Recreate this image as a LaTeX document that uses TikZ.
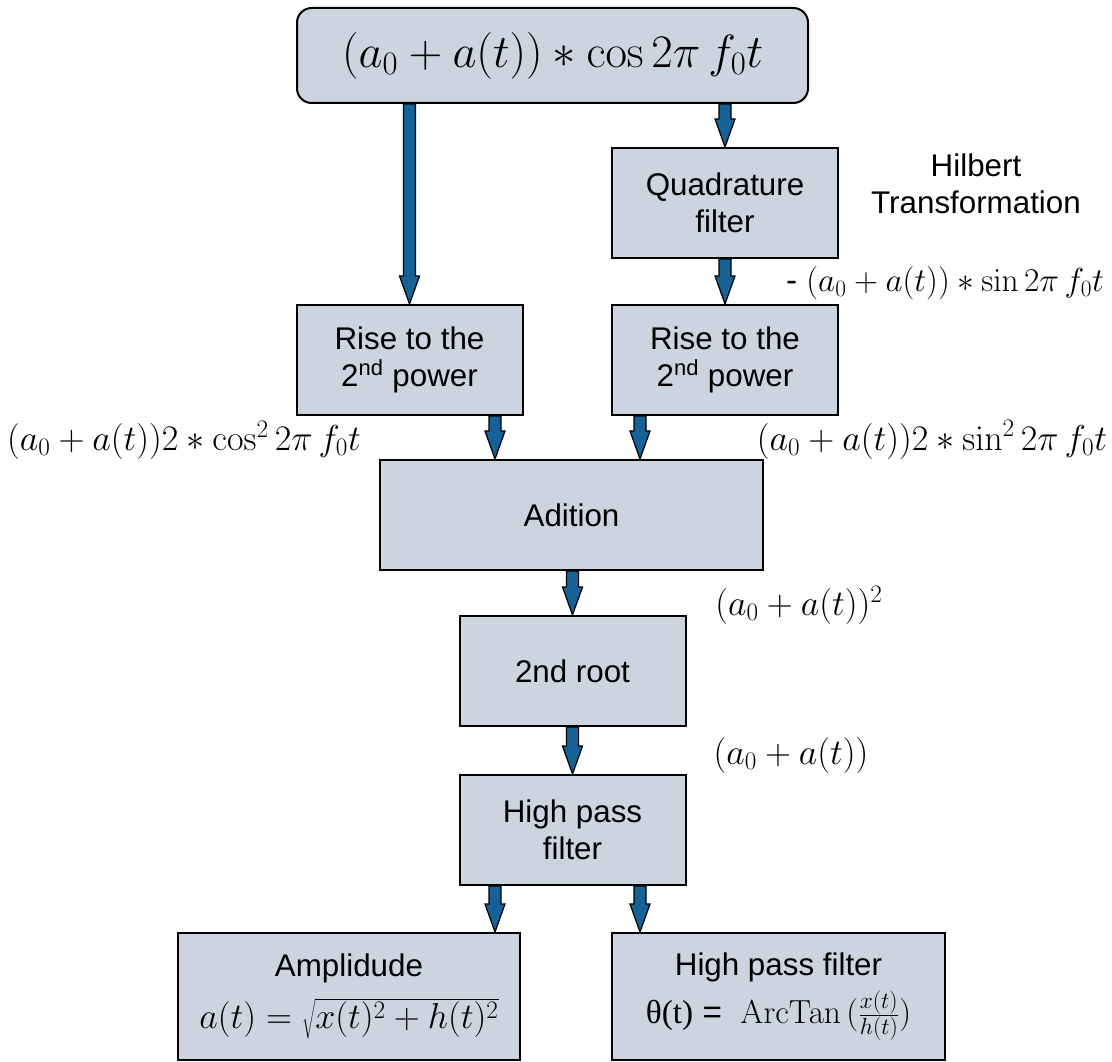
\RequirePackage{fix-cm}
\documentclass[tikz,border=0pt]{standalone}
\usepackage[no-math]{fontspec}
\setmainfont{Liberation Sans}
\newfontfamily\thetafont{Liberation Serif}
\usetikzlibrary{calc}

\definecolor{boxfill}{RGB}{204,212,224}
\definecolor{arrowblue}{RGB}{22,98,150}

% block arrow pointing down, from #1 to #2
\newcommand{\blockarrow}[2]{%
  \draw[barrow] let \p1=(#1), \p2=(#2) in
    (\x1-4.5pt,\y1) -- (\x1-4.5pt,\y2+21pt) -- (\x1-7.5pt,\y2+21pt)
    -- (\x1,\y2) -- (\x1+7.5pt,\y2+21pt) -- (\x1+4.5pt,\y2+21pt)
    -- (\x1+4.5pt,\y1) -- cycle;}

\begin{document}
\begin{tikzpicture}[x=0.75pt, y=-0.75pt,
    block/.style={draw=black, line width=1.5pt, fill=boxfill, align=center,
      inner sep=0pt, minimum width=169.5pt, minimum height=82.5pt,
      font=\fontsize{23.5}{28}\selectfont},
    barrow/.style={draw=black, line width=0.9pt, fill=arrowblue, line join=miter},
    mlabel/.style={inner sep=0pt, font=\fontsize{27}{32}\selectfont},
    note/.style={inner sep=0pt, align=center, font=\fontsize{23.5}{28}\selectfont}]
    \useasboundingbox (0,0) rectangle (1112,1062);

    % Signal source
    \node[block, rounded corners=11pt, minimum width=383.25pt, minimum height=71.25pt,
        font=\fontsize{35}{40}\selectfont] (src) at (552.5,55.5)
        {$(a_0 + a(t)) \ast \cos 2\pi\, f_0 t$};

    % Processing chain
    \node[block] (quad)  at (725,203)   {Quadrature\\filter};
    \node[block] (riseL) at (409.5,360) {Rise to the\\2\textsuperscript{nd} power};
    \node[block] (riseR) at (725,360)   {Rise to the\\2\textsuperscript{nd} power};
    \node[block, minimum width=287.25pt] (add) at (571.5,515) {Adition};
    \node[block] (root)  at (572.5,671) {2nd root};
    \node[block] (hpf)   at (572.5,830) {High pass\\filter};

    % Outputs
    \node[block, minimum width=256.5pt, minimum height=95.25pt] (amp) at (349,996.5)
        {Amplidude\\[11pt] \fontsize{27}{32}\selectfont $a(t) = \sqrt{x(t)^2 + h(t)^2}$};
    \node[block, minimum width=249.75pt, minimum height=95.25pt] (phase) at (778.5,996.5)
        {High pass filter\\[6pt] \fontsize{25}{30}\selectfont
         {\thetafont θ(t)} = \ $\mathrm{ArcTan}\,(\frac{x(t)}{h(t)})$};

    % Side labels
    \node[note]   (hilb) at (976,184)  {Hilbert\\Transformation};
    \node[mlabel, font=\fontsize{25}{30}\selectfont] (quadOut) at (945,283)
        {- $(a_0 + a(t)) \ast \sin 2\pi\, f_0 t$};
    \node[mlabel] (cosSq) at (184,440) {$(a_0 + a(t))2 \ast \cos^2 2\pi\, f_0 t$};
    \node[mlabel] (sinSq) at (932,440) {$(a_0 + a(t))2 \ast \sin^2 2\pi\, f_0 t$};
    \node[mlabel] (sq)    at (799,605) {$(a_0 + a(t))^2$};
    \node[mlabel] (lin)   at (791,755) {$(a_0 + a(t))$};

    % Arrow columns
    \coordinate (colL) at (495,0);
    \coordinate (colR) at (640,0);

    \blockarrow{riseL.north |- src.south}{riseL.north}
    \blockarrow{quad.north |- src.south}{quad.north}
    \blockarrow{quad.south}{riseR.north}
    \blockarrow{riseL.south -| colL}{add.north -| colL}
    \blockarrow{riseR.south -| colR}{add.north -| colR}
    \blockarrow{add.south -| root.north}{root.north}
    \blockarrow{root.south}{hpf.north}
    \blockarrow{hpf.south -| colL}{amp.north -| colL}
    \blockarrow{hpf.south -| colR}{phase.north -| colR}
\end{tikzpicture}
\end{document}
